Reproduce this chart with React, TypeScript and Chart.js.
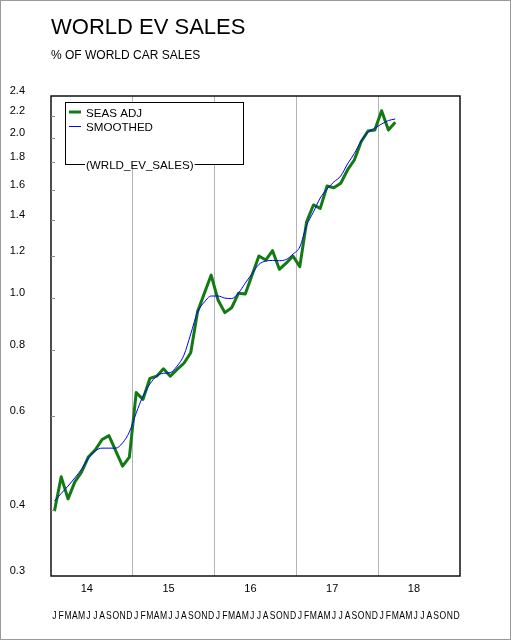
import React, { useEffect, useRef } from 'react';
import { Chart, registerables } from 'chart.js';

Chart.register(...registerables);

// ---- data (Jan 2014 = index 0) ----
const yearLabels = ['14', '15', '16', '17', '18'];
const monthLetters = ['J', 'F', 'M', 'A', 'M', 'J', 'J', 'A', 'S', 'O', 'N', 'D'];
const monthCount = 60;
const yTicks = [0.3, 0.4, 0.6, 0.8, 1.0, 1.2, 1.4, 1.6, 1.8, 2.0, 2.2, 2.4];
const yearBoundaries = [11.5, 23.5, 35.5, 47.5];
const yearLabelPositions = [4.75, 16.75, 28.75, 40.75, 52.75];

const seasAdj = [
  0.397, 0.461, 0.419, 0.451, 0.471, 0.503, 0.518, 0.542, 0.551, 0.516, 0.483, 0.502,
  0.664, 0.645, 0.706, 0.713, 0.736, 0.713, 0.734, 0.754, 0.789, 0.943, 1.021, 1.105,
  0.992, 0.939, 0.959, 1.021, 1.018, 1.105, 1.2, 1.179, 1.228, 1.133, 1.163, 1.2,
  1.146, 1.392, 1.497, 1.475, 1.625, 1.613, 1.644, 1.742, 1.819, 1.969, 2.062, 2.071,
  2.252, 2.071, 2.141,
];

const smoothed = [
  0.415, 0.429, 0.443, 0.459, 0.477, 0.5, 0.516, 0.522, 0.522, 0.522, 0.534, 0.56,
  0.608, 0.654, 0.689, 0.713, 0.722, 0.724, 0.745, 0.781, 0.856, 0.941, 0.983, 1.009,
  1.009, 1.0, 0.998, 1.022, 1.067, 1.112, 1.157, 1.174, 1.177, 1.176, 1.182, 1.21,
  1.248, 1.37, 1.452, 1.543, 1.604, 1.654, 1.697, 1.788, 1.871, 1.975, 2.053, 2.087,
  2.126, 2.158, 2.172,
];

const title = 'WORLD EV SALES';
const subtitle = '% OF WORLD CAR SALES';
const seriesNames = ['SEAS ADJ', 'SMOOTHED'];
const sourceName = '(WRLD_EV_SALES)';

const GREEN = 'rgb(18,122,18)';
const BLUE = '#0000ff';
const FONT = '"Liberation Sans", Arial, Helvetica, sans-serif';

const decorPlugin = {
  id: 'decor',
  beforeDraw(chart: any) {
    const ctx = chart.ctx;
    ctx.save();
    ctx.fillStyle = '#ffffff';
    ctx.fillRect(0, 0, chart.width, chart.height);
    ctx.restore();
  },
  afterDraw(chart: any) {
    const ctx = chart.ctx;
    const { left, right, top, bottom } = chart.chartArea;
    const xs = chart.scales.x;
    const ys = chart.scales.y;
    ctx.save();

    // plot frame
    ctx.strokeStyle = '#111';
    ctx.lineWidth = 1.5;
    ctx.strokeRect(left, top, right - left, bottom - top);

    // inner tick marks on y axis
    ctx.strokeStyle = '#8a8a8a';
    ctx.lineWidth = 1;
    yTicks.slice(1, -1).forEach((v) => {
      const py = Math.round(ys.getPixelForValue(v)) + 0.5;
      ctx.beginPath();
      ctx.moveTo(left, py);
      ctx.lineTo(left + 4, py);
      ctx.stroke();
    });

    // month letters (condensed)
    ctx.fillStyle = '#000';
    ctx.font = `11px ${FONT}`;
    ctx.textAlign = 'center';
    ctx.textBaseline = 'alphabetic';
    for (let i = 0; i < monthCount; i++) {
      const px = xs.getPixelForValue(i);
      ctx.save();
      ctx.translate(px, 619);
      ctx.scale(0.78, 1);
      ctx.fillText(monthLetters[i % 12], 0, 0);
      ctx.restore();
    }

    // legend box
    const lx = 65.5, ly = 102.5, lw = 178, lh = 62;
    ctx.fillStyle = '#fff';
    ctx.fillRect(lx, ly, lw, lh);
    ctx.strokeStyle = '#000';
    ctx.lineWidth = 1;
    ctx.strokeRect(lx, ly, lw, lh);
    ctx.lineWidth = 3;
    ctx.strokeStyle = GREEN;
    ctx.beginPath();
    ctx.moveTo(69, 112);
    ctx.lineTo(81, 112);
    ctx.stroke();
    ctx.lineWidth = 1;
    ctx.strokeStyle = BLUE;
    ctx.beginPath();
    ctx.moveTo(69, 126.5);
    ctx.lineTo(81, 126.5);
    ctx.stroke();
    ctx.fillStyle = '#000';
    ctx.font = `11.6px ${FONT}`;
    ctx.textAlign = 'left';
    ctx.fillText(seriesNames[0], 86, 116.5);
    ctx.fillText(seriesNames[1], 86, 130.5);
    const sw = ctx.measureText(sourceName).width;
    ctx.fillStyle = '#fff';
    ctx.fillRect(85, ly - 1 + lh - 2, sw + 2, 5);
    ctx.fillStyle = '#000';
    ctx.fillText(sourceName, 86, ly + lh + 4);

    // title & subtitle
    ctx.font = `22px ${FONT}`;
    ctx.fillText(title, left, 34);
    ctx.font = `12px ${FONT}`;
    ctx.fillText(subtitle, left, 59);

    // outer frame
    ctx.strokeStyle = '#9a9a9a';
    ctx.lineWidth = 1;
    ctx.strokeRect(0.5, 0.5, chart.width - 1, chart.height - 1);
    ctx.restore();
  },
};

export default function App() {
  const canvasRef = useRef<HTMLCanvasElement | null>(null);

  useEffect(() => {
    if (!canvasRef.current) return;
    const chart = new Chart(canvasRef.current, {
      type: 'line',
      data: {
        datasets: [
          {
            label: seriesNames[0],
            data: seasAdj.map((v, i) => ({ x: i, y: v })),
            borderColor: GREEN,
            borderWidth: 3,
            pointRadius: 0,
            tension: 0,
            fill: false,
            order: 2,
            borderJoinStyle: 'round',
          },
          {
            label: seriesNames[1],
            data: smoothed.map((v, i) => ({ x: i, y: v })),
            borderColor: BLUE,
            borderWidth: 1,
            pointRadius: 0,
            cubicInterpolationMode: 'monotone',
            fill: false,
            order: 1,
          },
        ],
      },
      options: {
        animation: false,
        responsive: false,
        devicePixelRatio: 1,
        layout: { padding: { left: 10, right: 51, top: 96, bottom: 44 } },
        plugins: {
          legend: { display: false },
          tooltip: { enabled: false },
          title: { display: false },
        },
        scales: {
          x: {
            type: 'linear',
            position: 'bottom',
            min: -0.5,
            max: monthCount - 0.5,
            bounds: 'data',
            weight: 0,
            afterBuildTicks: (a: any) => {
              a.ticks = yearBoundaries.map((v) => ({ value: v }));
            },
            afterFit: (a: any) => {
              a.height = 0;
            },
            ticks: { display: false },
            grid: { color: '#b4b4b4', lineWidth: 1, drawTicks: false },
            border: { display: false },
          },
          xYear: {
            type: 'linear',
            position: 'bottom',
            min: -0.5,
            max: monthCount - 0.5,
            bounds: 'data',
            weight: 1,
            afterBuildTicks: (a: any) => {
              a.ticks = yearLabelPositions.map((v) => ({ value: v }));
            },
            afterFit: (a: any) => {
              a.height = 20;
            },
            ticks: {
              autoSkip: false,
              maxRotation: 0,
              padding: 6,
              color: '#000',
              font: { family: FONT, size: 11 },
              callback: (_v: any, idx: number) => yearLabels[idx],
            },
            grid: { display: false, drawTicks: false },
            border: { display: false },
          },
          y: {
            type: 'logarithmic',
            min: 0.3,
            max: 2.4,
            afterBuildTicks: (a: any) => {
              a.ticks = yTicks.map((v) => ({ value: v }));
            },
            afterFit: (a: any) => {
              a.width = 41;
            },
            ticks: {
              autoSkip: false,
              padding: 26,
              labelOffset: -5,
              color: '#000',
              font: { family: FONT, size: 11 },
              callback: (v: any) => Number(v).toFixed(1),
            },
            grid: { display: false, drawTicks: false },
            border: { display: false },
          },
        },
      } as any,
      plugins: [decorPlugin],
    });
    return () => chart.destroy();
  }, []);

  return (
    <div style={{ position: 'fixed', left: 0, top: 0, width: 511, height: 640, background: '#fff' }}>
      <canvas ref={canvasRef} width={511} height={640} style={{ display: 'block', width: 511, height: 640 }} />
    </div>
  );
}
